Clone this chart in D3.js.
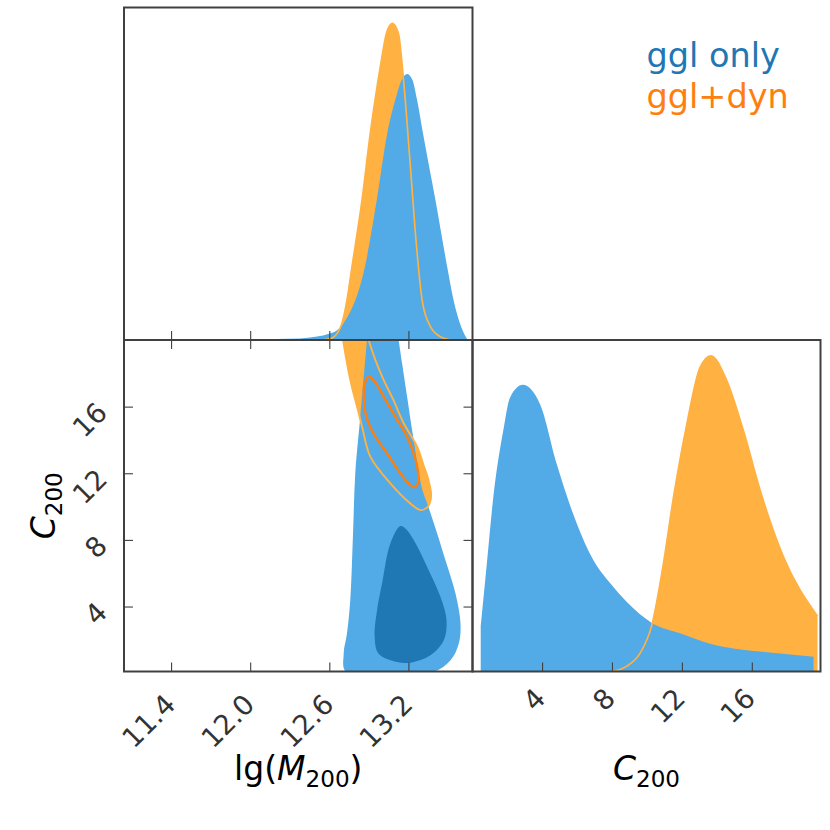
<!DOCTYPE html>
<html>
<head>
<meta charset="utf-8">
<script src="https://cdn.jsdelivr.net/npm/d3@7"></script>
<style>
  body { margin: 0; background: #fff; }
  svg { font-family: "DejaVu Sans", sans-serif; }
</style>
</head>
<body>
<svg id="chart" width="830" height="830"></svg>
<script>
"use strict";

// ticks and names
var massTicks = [11.4, 12.0, 12.6, 13.2];
var concTicks = [4, 8, 12, 16];
var names = ["ggl only", "ggl+dyn"];

// 1D marginal, lg(M200) : [value, density]
var massGgl = [[12.1,0],[12.2,0.003],[12.38,0.005],[12.61,0.021],[12.71,0.054],[12.87,0.231],
  [12.96,0.442],[13.04,0.654],[13.10,0.758],[13.15,0.822],[13.19,0.84],[13.23,0.822],[13.266,0.758],
  [13.31,0.654],[13.405,0.442],[13.494,0.231],[13.54,0.13],[13.62,0.022],[13.65,0]];
var massDyn = [[12.55,0],[12.62,0.006],[12.66,0.021],[12.696,0.053],[12.734,0.126],[12.772,0.231],
  [12.848,0.442],[12.911,0.653],[12.987,0.863],[13.033,0.968],[13.078,1.0],[13.124,0.968],
  [13.164,0.816],[13.215,0.547],[13.253,0.337],[13.304,0.126],[13.367,0.042],[13.443,0.01],[13.52,0]];

// 1D marginal, C200
var concGgl = [[0.49,0.144],[0.84,0.341],[1.21,0.552],[1.78,0.763],[2.17,0.868],[2.9,0.908],
  [3.89,0.846],[4.84,0.657],[5.99,0.468],[6.94,0.352],[7.89,0.28],[8.85,0.22],[10.28,0.154],
  [11.9,0.121],[13.62,0.088],[14.95,0.073],[16.48,0.063],[19.53,0.047]];
var concDyn = [[8.0,0],[8.85,0.017],[9.61,0.058],[10.28,0.147],[10.94,0.341],[11.52,0.552],
  [12.28,0.783],[13.04,0.963],[13.66,1.0],[14.57,0.921],[15.52,0.763],[16.48,0.573],
  [17.81,0.363],[19.76,0.175]];

// 2D contours [lg(M200), C200]
var gglOuter = [[12.886,20.0],[12.835,15.40],[12.797,12.0],[12.780,8.39],[12.759,4.38],[12.734,2.38],
  [12.709,1.17],[12.729,0.05],[13.380,0.05],[13.519,0.77],[13.582,1.78],[13.595,2.98],[13.557,4.78],
  [13.481,6.78],[13.418,8.39],[13.352,9.97],[13.306,10.99],[13.276,12.20],[13.240,14.0],
  [13.228,14.60],[13.190,16.60],[13.152,18.61],[13.126,20.0]];
var gglInner = [[13.139,8.83],[13.063,7.79],[13.000,5.38],[12.962,3.78],[12.944,2.17],[12.974,1.17],
  [13.114,0.67],[13.215,0.63],[13.367,1.07],[13.468,1.97],[13.489,3.18],[13.443,4.58],
  [13.342,6.38],[13.240,7.99],[13.177,8.69]];
var dynOuter = [[12.704,20.0],[12.759,17.61],[12.823,15.61],[12.851,14.72],[12.911,13.0],
  [13.063,11.40],[13.215,10.19],[13.291,9.79],[13.344,9.97],[13.372,10.59],[13.352,11.59],
  [13.314,12.50],[13.266,13.60],[13.164,15.0],[13.086,16.40],[13.012,17.61],[12.949,18.81],[12.898,20.0]];
var dynInner = [[12.898,17.81],[12.866,17.3],[12.862,16.5],[12.872,15.7],[12.898,15.0],[12.949,14.20],
  [13.038,13.20],[13.139,12.0],[13.215,11.29],[13.253,11.16],[13.274,11.49],[13.271,12.20],
  [13.240,13.20],[13.190,14.20],[13.101,15.40],[13.012,16.60],[12.940,17.55]];

var col = {
  blue: "#52aae7", blueDark: "#1f77b4",
  orange: "#ffb142", orangeDark: "#ff7f0e",
  spine: "#404040", tick: "#404040", text: "#333333"
};

var svg = d3.select("#chart");

// panel frames
var L = 124, M = 472.5, R = 820.5, T = 7.5, Y = 340, B = 671.5;

var xMass = d3.scaleLinear().domain([11.043, 13.686]).range([L, M]);
var xConc = d3.scaleLinear().domain([0.02, 19.93]).range([M, R]);
var yConc = d3.scaleLinear().domain([0.1, 20]).range([B, Y]);
var yTop = d3.scaleLinear().domain([0, 1.05]).range([Y, T]);
var yRight = d3.scaleLinear().domain([0, 1.05]).range([B, Y]);

var addClip = function(id, x0, y0, x1, y1) {
  svg.append("clipPath").attr("id", id)
    .append("rect").attr("x", x0).attr("y", y0).attr("width", x1 - x0).attr("height", y1 - y0);
  return svg.append("g").attr("clip-path", "url(#" + id + ")");
};

var fill1d = function(g, data, x, y, color) {
  var area = d3.area().curve(d3.curveMonotoneX)
    .x(d => x(d[0])).y0(y(0)).y1(d => y(d[1]));
  g.append("path").attr("d", area(data)).attr("fill", color);
};

var line1d = function(g, data, x, y, color, w) {
  var line = d3.line().curve(d3.curveMonotoneX)
    .x(d => x(d[0])).y(d => y(d[1]));
  g.append("path").attr("d", line(data)).attr("fill", "none")
    .attr("stroke", color).attr("stroke-width", w);
};

// contour path, closed or cut by the frame
var contour = function(data, closed) {
  var line = d3.line().curve(closed ? d3.curveCatmullRomClosed : d3.curveCatmullRom)
    .x(d => xMass(d[0])).y(d => yConc(d[1]));
  return line(data) + (closed ? "" : "Z");
};

// top left: lg(M200)
var gTop = addClip("clipTop", L, T, M, Y);
fill1d(gTop, massDyn, xMass, yTop, col.orange);
fill1d(gTop, massGgl, xMass, yTop, col.blue);
line1d(gTop, massDyn, xMass, yTop, col.orange, 1.7);

// bottom right: C200
var gRight = addClip("clipRight", M, Y, R, B);
fill1d(gRight, concDyn, xConc, yRight, col.orange);
fill1d(gRight, concGgl, xConc, yRight, col.blue);
line1d(gRight, concDyn, xConc, yRight, col.orange, 1.7);

// bottom left: 2D
var g2d = addClip("clip2d", L, Y, M, B);
g2d.append("path").attr("d", contour(dynOuter, false)).attr("fill", col.orange);
g2d.append("path").attr("d", contour(gglOuter, false)).attr("fill", col.blue);
g2d.append("path").attr("d", contour(gglInner, true)).attr("fill", col.blueDark);
g2d.append("path").attr("d", contour(dynOuter, false)).attr("fill", "none")
  .attr("stroke", col.orange).attr("stroke-width", 1.9);
g2d.append("path").attr("d", contour(dynInner, true)).attr("fill", "none")
  .attr("stroke", col.orangeDark).attr("stroke-width", 2.4);

// ticks, pointing inwards
var tickAxis = function(axis, tx, ty) {
  var g = svg.append("g").attr("transform", "translate(" + tx + "," + ty + ")")
    .call(axis.tickSizeOuter(0).tickFormat(""));
  g.select(".domain").remove();
  g.selectAll("line").attr("stroke", col.tick).attr("stroke-width", 1.1);
  return g;
};

tickAxis(d3.axisBottom(xMass).tickValues(massTicks).tickSizeInner(-9), 0, Y);
tickAxis(d3.axisBottom(xMass).tickValues(massTicks).tickSizeInner(-9), 0, B);
tickAxis(d3.axisTop(xMass).tickValues(massTicks).tickSizeInner(-9), 0, Y);
tickAxis(d3.axisLeft(yConc).tickValues(concTicks).tickSizeInner(-9), L, 0);
tickAxis(d3.axisRight(yConc).tickValues(concTicks).tickSizeInner(-9), M, 0);
tickAxis(d3.axisBottom(xConc).tickValues(concTicks).tickSizeInner(-9), 0, B);

// tick labels, rotated 45 degrees
var fs = 27.5;
var rise = 0.516 * fs;
var label45 = function(px, py, txt) {
  svg.append("text")
    .attr("x", px).attr("y", py)
    .attr("text-anchor", "end")
    .attr("transform", "rotate(-45," + px + "," + py + ")")
    .attr("fill", col.text)
    .style("font-size", fs + "px")
    .text(txt);
};
massTicks.forEach(v => label45(xMass(v) + 6, 692 + rise, v.toFixed(1)));
concTicks.forEach(v => label45(xConc(v) + 5, 686 + rise, v));
concTicks.forEach(v => label45(109, yConc(v) - 6.5 + rise, v));

// frames
[[L, T, M, Y], [L, Y, M, B], [M, Y, R, B]].forEach(function(p) {
  svg.append("rect")
    .attr("x", p[0]).attr("y", p[1]).attr("width", p[2] - p[0]).attr("height", p[3] - p[1])
    .attr("fill", "none").attr("stroke", col.spine).attr("stroke-width", 2);
});

// axis labels
var lab = 33;
var xl = svg.append("text")
  .attr("x", (L + M) / 2).attr("y", 780).attr("text-anchor", "middle")
  .style("font-size", lab + "px").attr("fill", "#000");
xl.append("tspan").text("lg(");
xl.append("tspan").style("font-style", "italic").text("M");
xl.append("tspan").attr("dy", 7).style("font-size", (lab * 0.7) + "px").text("200");
xl.append("tspan").attr("dy", -7).text(")");

var cl = svg.append("text")
  .attr("x", (M + R) / 2).attr("y", 780).attr("text-anchor", "middle")
  .style("font-size", lab + "px").attr("fill", "#000");
cl.append("tspan").style("font-style", "italic").text("C");
cl.append("tspan").attr("dy", 7).style("font-size", (lab * 0.7) + "px").text("200");

var yl = svg.append("text")
  .attr("transform", "translate(55," + (Y + B) / 2 + ") rotate(-90)")
  .attr("text-anchor", "middle")
  .style("font-size", lab + "px").attr("fill", "#000");
yl.append("tspan").style("font-style", "italic").text("C");
yl.append("tspan").attr("dy", 7).style("font-size", (lab * 0.7) + "px").text("200");

// legend
var legendColors = [col.blueDark, col.orangeDark];
names.forEach(function(n, i) {
  svg.append("text")
    .attr("x", 646.5).attr("y", 66.5 + i * 41.8)
    .attr("fill", legendColors[i])
    .style("font-size", "33.5px")
    .text(n);
});
</script>
</body>
</html>
